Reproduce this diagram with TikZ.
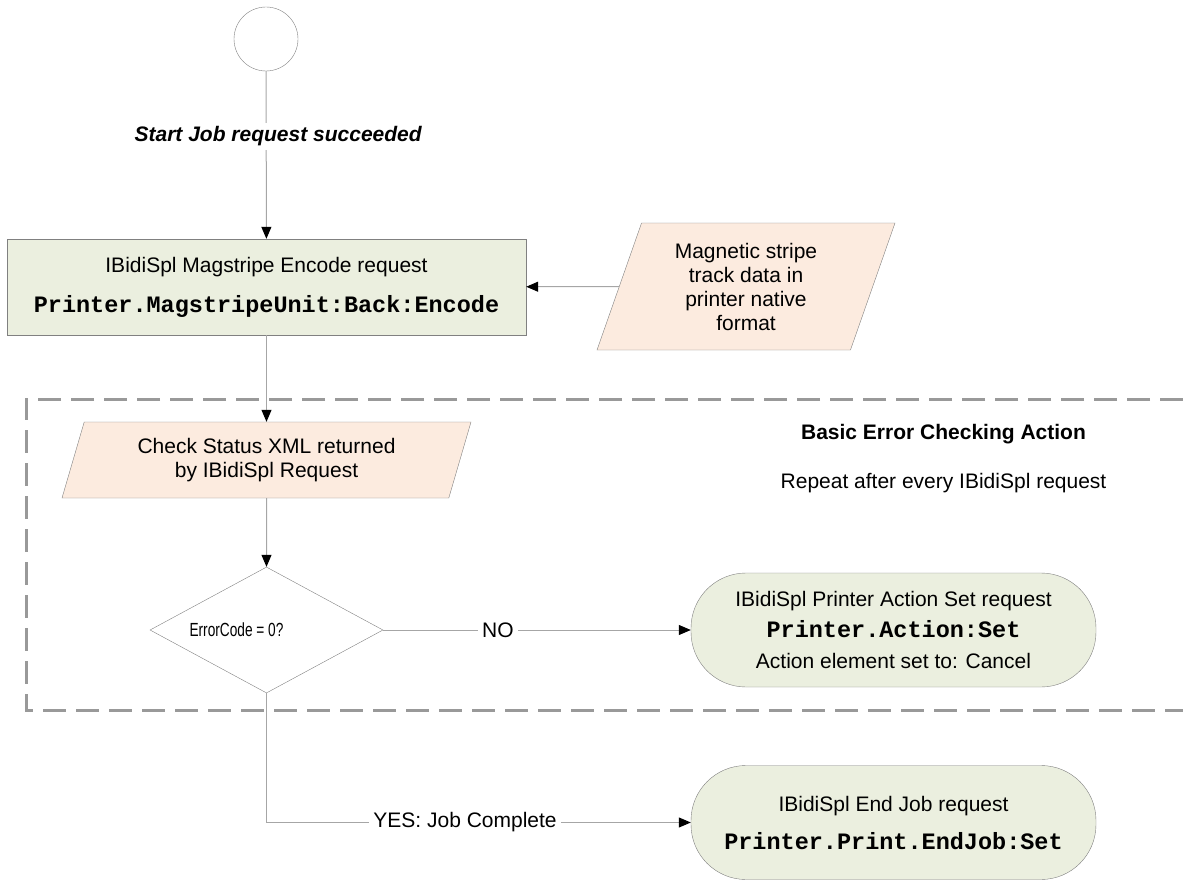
\documentclass[tikz,border=0pt]{standalone}
\usepackage{graphicx}
\usepackage{fontspec}
\setmainfont{Liberation Sans}
\setmonofont{Liberation Mono}
\usetikzlibrary{shapes.geometric,arrows.meta}
\definecolor{boxgreen}{HTML}{EBEFDF}
\definecolor{datapeach}{HTML}{FCEBDF}
\definecolor{rimgray}{HTML}{808080}
\definecolor{linegray}{HTML}{A6A6A6}
\definecolor{dashgray}{HTML}{999999}
\newcommand{\cmdtxt}[1]{{\fontsize{23.5}{24}\selectfont\ttfamily\bfseries #1}}

\begin{document}
\begin{tikzpicture}[x=1pt,y=-1pt,
    >={Triangle[length=12pt,width=10pt,color=black]},
    txt/.style={font=\fontsize{21}{24}\selectfont,align=center},
    box/.style={rectangle,draw=rimgray,fill=boxgreen,minimum width=519pt,minimum height=96pt},
    data/.style={trapezium,trapezium left angle=63,trapezium right angle=117,
                 trapezium stretches body,draw=rimgray,fill=datapeach,inner sep=0pt},
    term/.style={rectangle,rounded corners=55pt,draw=rimgray,fill=boxgreen,
                 minimum width=405pt,minimum height=114pt},
    decide/.style={diamond,aspect=1.85,draw=rimgray,inner sep=0pt,
                   minimum width=233pt,minimum height=126pt},
    lbl/.style={txt,fill=white,inner sep=4pt}]
\useasboundingbox (0,0) rectangle (1183,880);

% error check area
\draw [dashgray,line width=3pt,dash pattern=on 23pt off 10pt]
    (1183,399) -- (26,399) -- (26,710) -- (1183,710);

\begin{scope}[every node/.style={txt}]
    \node [circle,draw=rimgray,minimum size=64pt,inner sep=0pt] (start) at (266,39) {};
    \node [box] (encode) at (266.5,287)
        {IBidiSpl Magstripe Encode request\\[16pt]\cmdtxt{Printer.MagstripeUnit:Back:Encode}};
    \node [data,minimum width=298pt,minimum height=127pt] (magdata) at (746,286.5)
        {Magnetic stripe\\track data in\\printer native\\format};
    \node [data,minimum width=409pt,minimum height=76pt] (check) at (266.5,460)
        {Check Status XML returned\\by IBidiSpl Request};
    \node [decide,label={[txt,xshift=-30pt]center:\scalebox{0.72}[1]{\fontsize{19}{22}\selectfont ErrorCode = 0?}}]
        (dec) at (266.5,630) {};
    \node [term] (action) at (893.5,630)
        {IBidiSpl Printer Action Set request\\[7pt]\cmdtxt{Printer.Action:Set}\\[7pt]Action element set to: Cancel};
    \node [term] (endjob) at (893.5,822.5)
        {IBidiSpl End Job request\\[14pt]\cmdtxt{Printer.Print.EndJob:Set}};
    \node [font=\fontsize{21}{24}\selectfont\bfseries] (areatitle) at (943.5,434) {Basic Error Checking Action};
    \node (areanote) at (943.5,483) {Repeat after every IBidiSpl request};
\end{scope}

\begin{scope}[every edge/.style={draw=linegray,line width=1pt}]
    \path [->] (start) edge node [lbl,pos=0.39,xshift=12pt,font=\fontsize{21}{24}\selectfont\bfseries\itshape]
        {Start Job request succeeded} (encode);
    \path [->] (magdata) edge (encode);
    \path [->] (encode) edge (check);
    \path [->] (check) edge (dec);
    \path [->] (dec) edge node [lbl,pos=0.373] {NO} (action);
    \path [->] (dec) edge [to path={|- (\tikztotarget) \tikztonodes}]
        node [lbl,pos=0.734] {YES: Job Complete} (endjob);
\end{scope}
\end{tikzpicture}
\end{document}
